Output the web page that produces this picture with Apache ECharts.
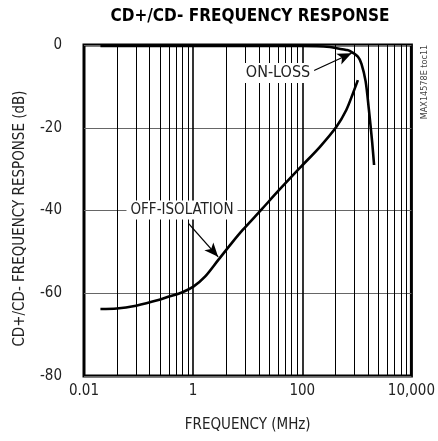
<!DOCTYPE html>
<html><head><meta charset="utf-8">
<script src="https://cdn.jsdelivr.net/npm/echarts@6/dist/echarts.min.js"></script>
<style>html,body{margin:0;padding:0;background:#fff}#c{width:438px;height:441px}</style>
</head><body><div id="c"></div>
<script>
// ON-LOSS series
const onLossFreq = [0.02, 1, 10, 80, 185, 320, 426, 641, 736, 1045, 1220, 1450, 1660, 1910, 2070];
const onLossDb   = [-0.2, -0.2, -0.2, -0.25, -0.3, -0.5, -0.8, -1.2, -1.4, -2.8, -4.6, -8.8, -15.5, -23.5, -29.0];
// OFF-ISOLATION series
const offIsoFreq = [0.02, 0.04, 0.09, 0.24, 0.36, 0.62, 1.01, 1.65, 2.87, 5.0, 8.1, 17.5, 37.4, 92, 211, 426, 641, 848, 1045];
const offIsoDb   = [-63.8, -63.7, -63.0, -61.6, -60.8, -59.8, -58.4, -56.0, -52.0, -48.0, -44.7, -39.9, -35.1, -29.6, -24.6, -19.7, -15.7, -11.7, -8.5];
// Axis tick labels (by decade exponent)
const xLabelText = {'-2': '0.01', '0': '1', '2': '100', '4': '10,000'};
// Log-paper cycles (each cycle spans two decades)
const gridCycles = [0.01, 1, 100];
// Annotation arrows [fromFreq, fromDb, toFreq, toDb]
const onLossArrow = [150, -6.4, 800, -2.0];
const offIsoArrow = [0.82, -43.1, 2.87, -51.2];

const FONT = "'Liberation Sans Narrow','Arial Narrow','DejaVu Sans Condensed','Roboto Condensed',sans-serif";

// vertical log-paper grid lines (two-decade cycles, minor lines at 2..9 of each cycle)
const gridVals = [];
gridCycles.forEach(c => {
  for (let m = 1; m <= 9; m++) {
    if (c === 0.01 && m === 1) continue;
    gridVals.push({xAxis: c * m * m, lineStyle: {width: m === 1 ? 1.6 : 1, color: '#000', type: 'solid'}});
  }
});

const chart = echarts.init(document.getElementById('c'), null, {renderer: 'canvas'});
chart.setOption({
  animation: false,
  backgroundColor: '#fff',
  grid: {left: 84, right: 22, top: 45, bottom: 65, show: true, borderColor: '#000', borderWidth: 3, backgroundColor: 'transparent'},
  xAxis: {
    type: 'log', logBase: 10, min: 0.01, max: 10000,
    axisLine: {show: false}, axisTick: {show: false}, splitLine: {show: false},
    axisLabel: {
      margin: 8, color: '#222', fontFamily: FONT, fontSize: 15,
      formatter: v => { const e = Math.round(Math.log10(v)); return xLabelText[String(e)] || ''; }
    },
    name: 'FREQUENCY (MHz)', nameLocation: 'middle', nameGap: 42,
    nameTextStyle: {color: '#222', fontFamily: FONT, fontSize: 15}
  },
  yAxis: {
    type: 'value', min: -80, max: 0, interval: 20,
    axisLine: {show: false}, axisTick: {show: false},
    splitLine: {show: true, lineStyle: {color: '#666', width: 1}},
    axisLabel: {margin: 22, color: '#222', fontFamily: FONT, fontSize: 15},
    name: 'CD+/CD- FREQUENCY RESPONSE (dB)', nameLocation: 'middle', nameGap: 56,
    nameTextStyle: {color: '#222', fontFamily: FONT, fontSize: 15, padding: [0, 16, 0, 0]}
  },
  series: [
    {
      name: 'ON-LOSS', type: 'line', showSymbol: false, smooth: 0.3, z: 5,
      lineStyle: {color: '#000', width: 2.6},
      data: onLossFreq.map((f, i) => [f, onLossDb[i]]),
      markLine: {
        silent: true, symbol: ['none', 'none'], label: {show: false}, animation: false, z: 1,
        data: gridVals
      }
    },
    {
      name: 'OFF-ISOLATION', type: 'line', showSymbol: false, smooth: 0.3, z: 5,
      lineStyle: {color: '#000', width: 2.6},
      data: offIsoFreq.map((f, i) => [f, offIsoDb[i]]),
      markLine: {
        silent: true, label: {show: false}, animation: false, z: 6,
        symbol: ['none', 'arrow'], symbolSize: [9, 14],
        lineStyle: {color: '#000', width: 1.3, type: 'solid'},
        data: [
          [{coord: [onLossArrow[0], onLossArrow[1]]}, {coord: [onLossArrow[2], onLossArrow[3]]}],
          [{coord: [offIsoArrow[0], offIsoArrow[1]]}, {coord: [offIsoArrow[2], offIsoArrow[3]]}]
        ]
      }
    }
  ],
  graphic: [
    {type: 'text', x: 250, y: 17, z: 100, style: {text: 'CD+/CD- FREQUENCY RESPONSE', fill: '#000', font: "bold 17px " + FONT, align: 'center', verticalAlign: 'middle'}},
    {type: 'text', x: 278, y: 73, z: 100, style: {text: 'ON-LOSS', fill: '#222', font: "16px " + FONT, align: 'center', verticalAlign: 'middle', backgroundColor: '#fff', padding: [2, 4]}},
    {type: 'text', x: 182, y: 210, z: 100, style: {text: 'OFF-ISOLATION', fill: '#222', font: "15px " + FONT, align: 'center', verticalAlign: 'middle', backgroundColor: '#fff', padding: [2, 4]}},
    {type: 'text', x: 425, y: 82, rotation: Math.PI / 2, z: 100, style: {text: 'MAX14578E toc11', fill: '#444', font: "9px " + FONT, align: 'center', verticalAlign: 'middle'}}
  ]
});
</script>
</body></html>
